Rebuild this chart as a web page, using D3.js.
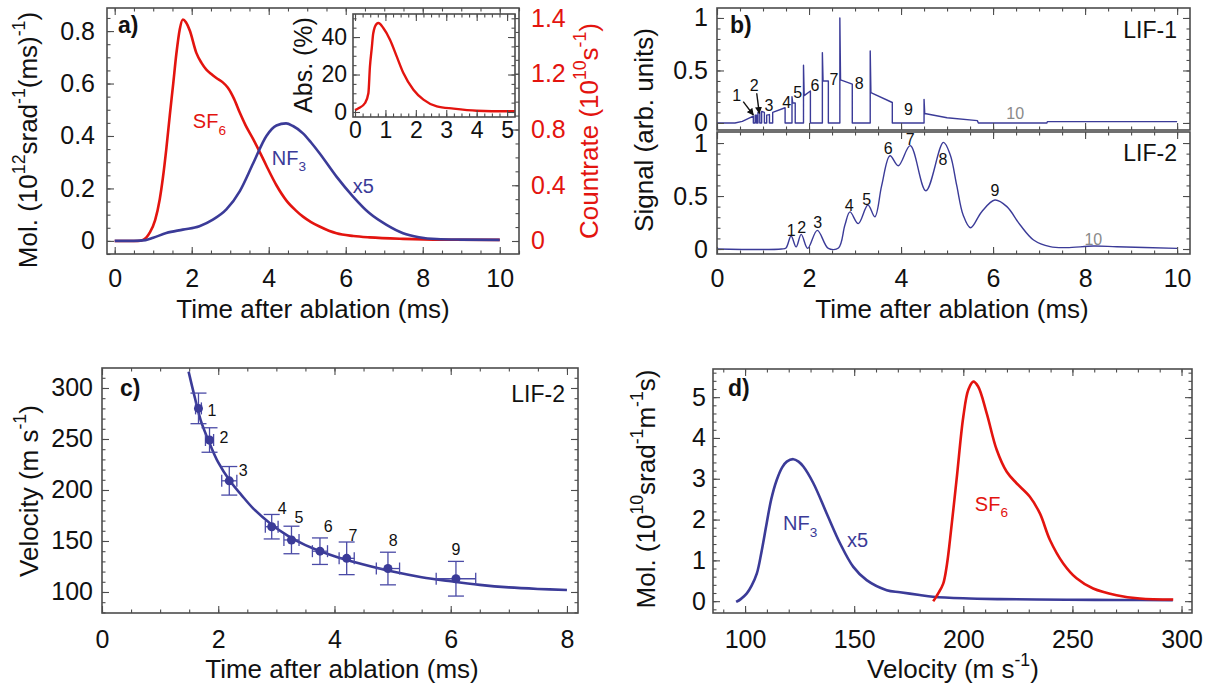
<!DOCTYPE html>
<html>
<head>
<meta charset="utf-8">
<script src="https://cdn.jsdelivr.net/npm/d3@7"></script>
<style>
body { margin: 0; background: #fff; }
svg text { font-family: "Liberation Sans", Arial, sans-serif; }
</style>
</head>
<body>
<svg id="fig" width="1217" height="691"></svg>
<script>
// ---- data ----
// a) time-of-flight, NF3 (x5) in Mol. units, SF6 in countrate units
var nf3Tof = [[0,0],[0.5,0],[0.8,0.003],[1.0,0.012],[1.34,0.03],[1.77,0.043],[2.2,0.056],[2.55,0.081],[2.9,0.12],[3.25,0.19],[3.6,0.297],[3.94,0.40],[4.2,0.44],[4.45,0.448],[4.63,0.438],[4.89,0.41],[5.1,0.375],[5.32,0.334],[5.76,0.245],[6.19,0.169],[6.62,0.105],[7.06,0.061],[7.49,0.029],[7.9,0.014],[8.36,0.007],[9,0.005],[10,0.004]];
var sf6Tof = [[0,0],[0.6,0],[0.75,0.01],[0.91,0.06],[1.05,0.15],[1.17,0.3],[1.25,0.45],[1.34,0.66],[1.43,0.9],[1.52,1.13],[1.6,1.34],[1.69,1.52],[1.77,1.59],[1.85,1.57],[1.95,1.51],[2.12,1.35],[2.25,1.28],[2.38,1.23],[2.5,1.2],[2.64,1.17],[2.8,1.14],[2.94,1.1],[3.1,1.02],[3.25,0.92],[3.4,0.83],[3.6,0.73],[3.8,0.62],[3.94,0.54],[4.2,0.4],[4.46,0.29],[4.7,0.22],[4.89,0.175],[5.1,0.136],[5.32,0.104],[5.76,0.055],[6.2,0.036],[6.62,0.026],[7.49,0.015],[8.5,0.009],[10,0.008]];
var absInset = [[0,1],[0.13,2.1],[0.33,4.8],[0.44,10],[0.49,24],[0.55,34],[0.6,42],[0.71,47],[0.77,47.5],[0.93,44.8],[1.15,38.6],[1.37,29.7],[1.59,20.8],[1.92,11.9],[2.25,6.6],[2.69,3],[3.24,1.8],[4,0.7],[5,0.4],[5.27,0.4]];
var countTicks = [0, 0.4, 0.8, 1.2, 1.6];
var countTickLabels = ["0", "0.4", "0.8", "1.2", "1.4"];

// b) LIF signals
var lif1 = [[0,0],[0.39,0],[0.55,0.015],[0.79,0.065],[0.79,0],[0.83,0],[0.83,0.075],[0.86,0.075],[0.86,0],[0.89,0],[0.89,0.1],[0.93,0.1],[0.93,0],[0.97,0],[0.97,0.11],[1.03,0.1],[1.03,0],[1.08,0],[1.08,0.075],[1.14,0.08],[1.14,0],[1.21,0],[1.21,0.1],[1.48,0.145],[1.48,0],[1.63,0],[1.63,0.25],[1.645,0.19],[1.7,0.19],[1.7,0],[1.88,0],[1.88,0.55],[1.895,0.26],[2.03,0.305],[2.03,0],[2.29,0],[2.29,0.67],[2.305,0.4],[2.42,0.4],[2.42,0],[2.67,0],[2.67,1.0],[2.685,0.41],[2.94,0.37],[2.94,0],[3.33,0],[3.33,0.685],[3.345,0.29],[3.81,0.195],[3.81,0],[4.5,0],[4.5,0.225],[4.515,0.09],[5.0,0.05],[5.66,0.022],[5.68,0],[7.17,0],[7.18,0.013],[10,0.013]];
var lif2 = [[0,0],[1.4,0],[1.5,0.01],[1.61,0.123],[1.72,0.02],[1.83,0.138],[1.97,0.006],[2.18,0.176],[2.42,0.005],[2.64,0.01],[2.78,0.226],[2.89,0.35],[3.07,0.24],[3.28,0.415],[3.43,0.305],[3.58,0.6],[3.76,0.88],[3.94,0.786],[4.2,0.975],[4.54,0.55],[4.92,1.006],[5.07,0.887],[5.21,0.6],[5.35,0.32],[5.51,0.2],[5.75,0.35],[6.04,0.462],[6.3,0.4],[6.59,0.226],[6.88,0.085],[7.24,0.022],[7.6,0.013],[8.18,0.028],[8.69,0.022],[10,0.006]];
var lif1Labels = [["1",0.43,0.21],["2",0.81,0.305],["3",1.13,0.114],["4",1.515,0.143],["5",1.755,0.238],["6",2.13,0.305],["7",2.54,0.362],["8",3.09,0.324],["9",4.16,0.076],["10",6.48,0.038]];
var lif2Labels = [["1",1.61,0.123],["2",1.84,0.151],["3",2.19,0.198],["4",2.875,0.358],["5",3.255,0.42],["6",3.72,0.896],["7",4.2,0.986],["8",4.91,0.797],["9",6.04,0.5],["10",8.18,0.042]];
var lif1Arrows = [[0.57,0.203,0.79,0.076],[0.863,0.283,0.92,0.092]];

// c) velocity vs arrival time
var peakNo = ["1","2","3","4","5","6","7","8","9"];
var peakTime = [1.66,1.85,2.19,2.92,3.26,3.75,4.21,4.92,6.09];
var peakVel = [280,249,209,164,151,140,133,123,113];
var velErr = [15,12,14,12,13.5,13,16,16,17];
var timeErr = [0.05,0.07,0.13,0.11,0.13,0.13,0.13,0.2,0.34];
var peakLabelT = [1.89,2.10,2.43,3.10,3.39,3.89,4.32,5.01,6.09];
var peakLabelV = [272.5,246,213.7,176.5,167.6,158.8,150,145,136.3];
var velFit = [[1.49,316],[1.6,290],[1.7,268],[1.85,246],[2.0,227],[2.2,209],[2.4,195],[2.6,182],[2.9,167],[3.2,155],[3.5,146],[4.0,135],[4.5,127],[5.0,120],[5.5,114.5],[6.0,110.5],[6.5,107],[7.0,104.5],[7.5,103],[8.0,102]];

// d) velocity distributions
var nf3Vel = [[95.9,-0.02],[98,0.05],[100.8,0.19],[103,0.38],[105.4,0.68],[107.5,1.2],[109.9,1.91],[112,2.5],[114.5,2.97],[117,3.28],[119.1,3.42],[122.1,3.48],[124.5,3.42],[126.7,3.3],[131.3,2.89],[137.4,2.15],[143.5,1.42],[149.6,0.84],[155.7,0.515],[164.9,0.27],[171,0.22],[180,0.15],[186,0.11],[200,0.07],[216.8,0.05],[247.3,0.035],[270,0.03],[296,0.025]];
var sf6Vel = [[186.2,0],[187.5,0.1],[188.5,0.19],[190.8,0.43],[192.5,0.9],[193.9,1.5],[196.9,2.97],[200,4.52],[202.3,5.18],[204.6,5.38],[206.8,5.26],[210.7,4.61],[215.3,3.71],[219.9,3.17],[224.4,2.89],[230.5,2.56],[235.1,2.15],[239.7,1.5],[245.8,0.925],[251.9,0.56],[259.5,0.31],[270.2,0.147],[280.9,0.065],[296.2,0.04]];

// ---- drawing ----
var blue = "#3b3b98", red = "#e3140f", ink = "#111", frameCol = "#4d4d4d";
var svg = d3.select("#fig");

function rng(a, b, s) { return d3.range(a, b + s / 2, s); }

function tickSide(g, scale, side, pos, vals, len) {
  var ax = {bottom: d3.axisBottom, top: d3.axisTop, left: d3.axisLeft, right: d3.axisRight}[side](scale)
    .tickValues(vals).tickSize(-len).tickFormat("");
  var horiz = side == "bottom" || side == "top";
  g.append("g").attr("transform", horiz ? "translate(0," + pos + ")" : "translate(" + pos + ",0)")
    .call(ax).call(function(a) { a.select(".domain").remove(); })
    .selectAll("line").attr("stroke", frameCol).attr("stroke-width", 1.1);
}

// frame with inward ticks on all four sides
function box(g, x, y, o) {
  var xr = x.range(), yr = y.range();
  var yR = o.yRight || y;
  tickSide(g, x, "bottom", yr[0], o.xMajor, 7); tickSide(g, x, "bottom", yr[0], o.xMinor, 3.5);
  tickSide(g, x, "top", yr[1], o.xMajor, 7); tickSide(g, x, "top", yr[1], o.xMinor, 3.5);
  tickSide(g, y, "left", xr[0], o.yMajor, 7); tickSide(g, y, "left", xr[0], o.yMinor, 3.5);
  tickSide(g, yR, "right", xr[1], o.yRMajor || o.yMajor, 7); tickSide(g, yR, "right", xr[1], o.yRMinor || o.yMinor, 3.5);
  g.append("rect").attr("x", xr[0]).attr("y", yr[1]).attr("width", xr[1] - xr[0]).attr("height", yr[0] - yr[1])
    .attr("fill", "none").attr("stroke", frameCol).attr("stroke-width", 1.6);
}

function tickLabels(g, scale, side, pos, vals, fmt, size, pad, color) {
  var ax = {bottom: d3.axisBottom, left: d3.axisLeft, right: d3.axisRight}[side](scale)
    .tickValues(vals).tickSize(0).tickPadding(pad).tickFormat(fmt);
  var horiz = side == "bottom";
  g.append("g").attr("transform", horiz ? "translate(0," + pos + ")" : "translate(" + pos + ",0)")
    .call(ax).call(function(a) { a.select(".domain").remove(); })
    .selectAll("text").attr("font-size", size).attr("fill", color || ink)
    .attr("font-family", "'Liberation Sans', Arial, sans-serif");
}

// text with super/subscripts; parts: "plain" or [str, "sup"|"sub"]
function rich(g, parts, size, attrs) {
  var t = g.append("text").attr("font-size", size);
  for (var k in attrs) t.attr(k, attrs[k]);
  var shift = 0;
  parts.forEach(function(p) {
    var s = Array.isArray(p) ? p[0] : p, kind = Array.isArray(p) ? p[1] : null;
    var target = kind == "sup" ? -0.45 * size : kind == "sub" ? 0.32 * size : 0;
    var ts = t.append("tspan").text(s);
    if (target - shift) ts.attr("dy", target - shift);
    if (kind) ts.attr("font-size", size * 0.68);
    shift = target;
  });
  return t;
}

function curve(g, data, x, y, color, width, c) {
  g.append("path").datum(data)
    .attr("d", d3.line().x(function(d) { return x(d[0]); }).y(function(d) { return y(d[1]); }).curve(c || d3.curveMonotoneX))
    .attr("fill", "none").attr("stroke", color).attr("stroke-width", width).attr("stroke-linejoin", "round");
}

var fmt = d3.format("~g");

// ===== panel a =====
var ga = svg.append("g");
var xa = d3.scaleLinear().domain([-0.2, 10.5]).range([107, 519]);
var ya = d3.scaleLinear().domain([-0.05, 0.888]).range([254, 8]);
var yaR = d3.scaleLinear().domain([-0.0933, 1.672]).range([254, 8]);
curve(ga, sf6Tof, xa, yaR, red, 2.6);
curve(ga, nf3Tof, xa, ya, blue, 2.6);
box(ga, xa, ya, {xMajor: rng(0, 10, 2), xMinor: rng(0, 10.5, 0.5), yMajor: rng(0, 0.8, 0.2), yMinor: rng(-0.05, 0.85, 0.05),
  yRight: yaR, yRMajor: countTicks, yRMinor: rng(0, 1.6, 0.1)});
tickLabels(ga, xa, "bottom", 254, rng(0, 10, 2), fmt, 25, 15);
tickLabels(ga, ya, "left", 107, rng(0, 0.8, 0.2), fmt, 25, 12);
tickLabels(ga, yaR, "right", 519, countTicks, function(d, i) { return countTickLabels[i]; }, 25, 12, red);
ga.append("text").attr("x", 313).attr("y", 318).attr("text-anchor", "middle").attr("font-size", 26).attr("fill", ink).text("Time after ablation (ms)");
rich(ga, ["Mol. (10", ["12", "sup"], "srad", ["-1", "sup"], "(ms)", ["-1", "sup"], ")"], 26,
  {transform: "translate(37,140) rotate(-90)", "text-anchor": "middle", fill: ink});
rich(ga, ["Countrate (10", ["10", "sup"], "s", ["-1", "sup"], ")"], 26,
  {transform: "translate(598,131) rotate(-90)", "text-anchor": "middle", fill: red});
ga.append("text").attr("x", 118).attr("y", 33).attr("font-size", 23).attr("font-weight", "bold").attr("fill", ink).text("a)");
rich(ga, ["SF", ["6", "sub"]], 20, {x: xa(2.03), y: ya(0.43), fill: red});
rich(ga, ["NF", ["3", "sub"]], 20, {x: xa(4.08), y: ya(0.29), fill: blue});
ga.append("text").attr("x", xa(6.18)).attr("y", ya(0.183)).attr("font-size", 20).attr("fill", blue).text("x5");

// inset
var xi = d3.scaleLinear().domain([-0.066, 5.26]).range([353, 515]);
var yi = d3.scaleLinear().domain([-2.67, 52.3]).range([117, 14]);
ga.append("rect").attr("x", 353).attr("y", 14).attr("width", 162).attr("height", 103).attr("fill", "#fff");
curve(ga, absInset, xi, yi, red, 2.4);
box(ga, xi, yi, {xMajor: rng(0, 5, 1), xMinor: rng(0, 5.25, 0.25), yMajor: [0, 20, 40], yMinor: rng(0, 50, 5)});
tickLabels(ga, xi, "bottom", 117, rng(0, 5, 1), fmt, 23, 5);
tickLabels(ga, yi, "left", 353, [0, 20, 40], fmt, 23, 6);
ga.append("text").attr("transform", "translate(312,65) rotate(-90)").attr("text-anchor", "middle")
  .attr("font-size", 25).attr("fill", ink).text("Abs. (%)");

// ===== panel b =====
var gb = svg.append("g");
var xb = d3.scaleLinear().domain([0, 10.28]).range([717, 1190]);
var yb1 = d3.scaleLinear().domain([-0.067, 1.095]).range([130, 8]);
var yb2 = d3.scaleLinear().domain([-0.047, 1.104]).range([254, 132]);
curve(gb, lif1, xb, yb1, blue, 1.4, d3.curveLinear);
curve(gb, lif2, xb, yb2, blue, 1.4, d3.curveCatmullRom.alpha(0.5));
[yb1, yb2].forEach(function(y) {
  box(gb, xb, y, {xMajor: rng(0, 10, 2), xMinor: rng(0, 10, 0.5), yMajor: [0, 0.5, 1], yMinor: rng(0, 1, 0.1)});
  tickLabels(gb, y, "left", 717, [0, 0.5, 1], fmt, 25, 9);
});
tickLabels(gb, xb, "bottom", 254, rng(0, 10, 2), fmt, 25, 15);
gb.append("text").attr("x", 952).attr("y", 318).attr("text-anchor", "middle").attr("font-size", 26).attr("fill", ink).text("Time after ablation (ms)");
gb.append("text").attr("transform", "translate(653,130) rotate(-90)").attr("text-anchor", "middle")
  .attr("font-size", 26).attr("fill", ink).text("Signal (arb. units)");
gb.append("text").attr("x", 730).attr("y", 33).attr("font-size", 23).attr("font-weight", "bold").attr("fill", ink).text("b)");
gb.append("text").attr("x", 1177).attr("y", 38).attr("text-anchor", "end").attr("font-size", 23).attr("fill", ink).text("LIF-1");
gb.append("text").attr("x", 1177).attr("y", 161).attr("text-anchor", "end").attr("font-size", 23).attr("fill", ink).text("LIF-2");
[[lif1Labels, yb1], [lif2Labels, yb2]].forEach(function(p) {
  gb.selectAll(null).data(p[0]).enter().append("text")
    .attr("x", function(d) { return xb(d[1]); }).attr("y", function(d) { return p[1](d[2]); })
    .attr("text-anchor", "middle").attr("font-size", 16)
    .attr("fill", function(d) { return d[0] == "10" ? "#8a8a8a" : ink; })
    .text(function(d) { return d[0]; });
});
svg.append("defs").append("marker").attr("id", "ah").attr("viewBox", "0 0 10 10").attr("refX", 9).attr("refY", 5)
  .attr("markerWidth", 5).attr("markerHeight", 5).attr("orient", "auto")
  .append("path").attr("d", "M0,0L10,5L0,10z").attr("fill", ink);
gb.selectAll(null).data(lif1Arrows).enter().append("line")
  .attr("x1", function(d) { return xb(d[0]); }).attr("y1", function(d) { return yb1(d[1]); })
  .attr("x2", function(d) { return xb(d[2]); }).attr("y2", function(d) { return yb1(d[3]); })
  .attr("stroke", ink).attr("stroke-width", 1.4).attr("marker-end", "url(#ah)");

// ===== panel c =====
var gc = svg.append("g");
var xc = d3.scaleLinear().domain([0, 8.19]).range([102, 578]);
var yc = d3.scaleLinear().domain([79.4, 319.6]).range([613, 368]);
curve(gc, velFit, xc, yc, blue, 2.6, d3.curveCatmullRom.alpha(0.5));
var errCol = "#4a4aa6";
peakTime.forEach(function(t, i) {
  var v = peakVel[i], cx = xc(t), cy = yc(v);
  var e = gc.append("g").attr("stroke", errCol).attr("stroke-width", 1.3);
  e.append("line").attr("x1", cx).attr("x2", cx).attr("y1", yc(v - velErr[i])).attr("y2", yc(v + velErr[i]));
  [v - velErr[i], v + velErr[i]].forEach(function(w) {
    e.append("line").attr("x1", cx - 8).attr("x2", cx + 8).attr("y1", yc(w)).attr("y2", yc(w));
  });
  e.append("line").attr("x1", xc(t - timeErr[i])).attr("x2", xc(t + timeErr[i])).attr("y1", cy).attr("y2", cy);
  [t - timeErr[i], t + timeErr[i]].forEach(function(s) {
    e.append("line").attr("x1", xc(s)).attr("x2", xc(s)).attr("y1", cy - 6).attr("y2", cy + 6);
  });
  gc.append("circle").attr("cx", cx).attr("cy", cy).attr("r", 4.5).attr("fill", blue);
  gc.append("text").attr("x", xc(peakLabelT[i])).attr("y", yc(peakLabelV[i])).attr("text-anchor", "middle")
    .attr("font-size", 16).attr("fill", ink).text(peakNo[i]);
});
box(gc, xc, yc, {xMajor: rng(0, 8, 2), xMinor: rng(0, 8, 0.5), yMajor: rng(100, 300, 50), yMinor: rng(80, 310, 10)});
tickLabels(gc, xc, "bottom", 613, rng(0, 8, 2), fmt, 25, 17);
tickLabels(gc, yc, "left", 102, rng(100, 300, 50), fmt, 25, 9);
gc.append("text").attr("x", 342).attr("y", 678).attr("text-anchor", "middle").attr("font-size", 26).attr("fill", ink).text("Time after ablation (ms)");
rich(gc, ["Velocity (m s", ["-1", "sup"], ")"], 26, {transform: "translate(38,491) rotate(-90)", "text-anchor": "middle", fill: ink});
gc.append("text").attr("x", 120).attr("y", 396).attr("font-size", 23).attr("font-weight", "bold").attr("fill", ink).text("c)");
gc.append("text").attr("x", 565).attr("y", 402).attr("text-anchor", "end").attr("font-size", 23).attr("fill", ink).text("LIF-2");

// ===== panel d =====
var gd = svg.append("g");
var xd = d3.scaleLinear().domain([85.3, 304.8]).range([713, 1192]);
var yd = d3.scaleLinear().domain([-0.29, 5.69]).range([613, 369]);
curve(gd, nf3Vel, xd, yd, blue, 2.6, d3.curveCatmullRom.alpha(0.5));
curve(gd, sf6Vel, xd, yd, red, 2.6, d3.curveCatmullRom.alpha(0.5));
box(gd, xd, yd, {xMajor: rng(100, 300, 50), xMinor: rng(90, 300, 10), yMajor: rng(0, 5, 1), yMinor: rng(-0.2, 5.6, 0.2)});
tickLabels(gd, xd, "bottom", 613, rng(100, 300, 50), fmt, 25, 17);
tickLabels(gd, yd, "left", 713, rng(0, 5, 1), fmt, 25, 7);
rich(gd, ["Velocity (m s", ["-1", "sup"], ")"], 26, {x: 953, y: 678, "text-anchor": "middle", fill: ink});
rich(gd, ["Mol. (10", ["10", "sup"], "srad", ["-1", "sup"], "m", ["-1", "sup"], "s)"], 26,
  {transform: "translate(655,489) rotate(-90)", "text-anchor": "middle", fill: ink});
gd.append("text").attr("x", 728).attr("y", 396).attr("font-size", 23).attr("font-weight", "bold").attr("fill", ink).text("d)");
rich(gd, ["NF", ["3", "sub"]], 20, {x: xd(117.4), y: yd(1.74), fill: blue});
gd.append("text").attr("x", xd(146.7)).attr("y", yd(1.33)).attr("font-size", 20).attr("fill", blue).text("x5");
rich(gd, ["SF", ["6", "sub"]], 20, {x: xd(205.3), y: yd(2.21), fill: red});
</script>
</body>
</html>
